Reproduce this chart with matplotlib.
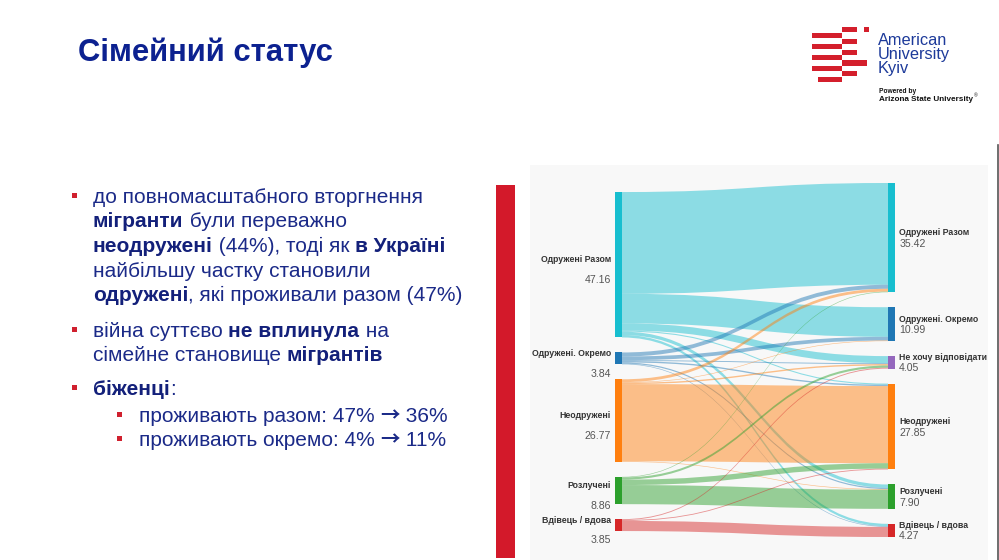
import matplotlib
matplotlib.use('Agg')
import matplotlib.pyplot as plt
from matplotlib.path import Path
from matplotlib.patches import PathPatch, Rectangle

# ---------------- data ----------------
left_labels = ['Одружені Разом', 'Одружені. Окремо', 'Неодружені', 'Розлучені', 'Вдівець / вдова']
left_values = [47.16, 3.84, 26.77, 8.86, 3.85]
right_labels = ['Одружені Разом', 'Одружені. Окремо', 'Не хочу відповідати', 'Неодружені',
                'Розлучені', 'Вдівець / вдова']
right_values = [35.42, 10.99, 4.05, 27.85, 7.90, 4.27]
left_colors = ['#17becf', '#1f77b4', '#ff7f0e', '#2ca02c', '#d62728']
right_colors = ['#17becf', '#1f77b4', '#9467bd', '#ff7f0e', '#2ca02c', '#d62728']
# rows: before (left), columns: after (right)
flows = [
    [33.00, 9.60, 2.30, 0.36, 1.10, 0.80],
    [1.30, 1.20, 0.30, 0.44, 0.40, 0.20],
    [0.92, 0.19, 0.45, 25.01, 0.20, 0.00],
    [0.20, 0.00, 0.70, 1.76, 6.20, 0.00],
    [0.00, 0.00, 0.30, 0.28, 0.00, 3.27],
]

title = 'Сімейний статус'
# segment styles: 'n' normal, 'b' bold, 'a' arrow
bullets = [
    (0, [[('до повномасштабного вторгнення', 'n')],
         [('мігранти', 'b'), (' були переважно', 'n')],
         [('неодружені', 'b'), (' (44%), тоді як ', 'n'), ('в Україні', 'b')],
         [('найбільшу частку становили', 'n')],
         [('одружені', 'b'), (', які проживали разом (47%)', 'n')]]),
    (0, [[('війна суттєво ', 'n'), ('не вплинула', 'b'), (' на', 'n')],
         [('сімейне становище ', 'n'), ('мігрантів', 'b')]]),
    (0, [[('біженці', 'b'), (':', 'n')]]),
    (1, [[('проживають разом: 47% ', 'n'), ('→', 'a'), (' 36%', 'n')]]),
    (1, [[('проживають окремо: 4% ', 'n'), ('→', 'a'), (' 11%', 'n')]]),
]

# ---------------- figure ----------------
W, H = 999, 560
fig = plt.figure(figsize=(W / 100, H / 100), dpi=100)
fig.patch.set_facecolor('white')
ax0 = fig.add_axes([0, 0, 1, 1])
ax0.set_xlim(0, W)
ax0.set_ylim(H, 0)
ax0.axis('off')

FAM = ['Liberation Sans', 'DejaVu Sans']
ARROW_FAM = ['Noto Sans CJK JP', 'DejaVu Sans']
NAVY = '#1b2a88'
RED = '#d41f2c'
renderer = fig.canvas.get_renderer()
probe = ax0.text(0, 0, '', family=FAM)


def adv(s, size, weight='normal', family=FAM):
    probe.set_fontsize(size)
    probe.set_fontweight(weight)
    probe.set_family(family)
    probe.set_text('|' + s + '|')
    w1 = probe.get_window_extent(renderer).width
    probe.set_text('||')
    w2 = probe.get_window_extent(renderer).width
    return w1 - w2


# panel background + red bar + edge line
ax0.add_patch(Rectangle((530, 165), 458, 395, facecolor='#f8f8f8', edgecolor='none', zorder=0))
ax0.add_patch(Rectangle((496, 185), 19, 373, facecolor='#d3192a', edgecolor='none', zorder=1))
ax0.plot([998, 998], [145, 560], color='#555555', lw=1.2, zorder=1)

# title
ax0.text(78, 61, title, fontsize=22.3, fontweight='bold', color='#0c2190', family=FAM,
         va='baseline', ha='left')

# logo
logo_rects = [(20, 38, 112, 157), (20, 38, 177, 192), (38, 55, 22, 112), (55, 72, 112, 157),
              (72, 88, 22, 112), (88, 105, 112, 157), (105, 120, 22, 112), (120, 138, 112, 185),
              (138, 153, 22, 112), (153, 170, 112, 157), (170, 187, 40, 112)]
for y0, y1, x0, x1 in logo_rects:
    ax0.add_patch(Rectangle((805 + x0 / 3, 20 + y0 / 3 + 0.25), (x1 - x0) / 3, (y1 - y0) / 3 - 0.5,
                            facecolor=RED, edgecolor='none'))
for i, w in enumerate(['American', 'University', 'Kyiv']):
    ax0.text(878, 45 + i * 13.8, w, fontsize=11.8, color='#1d3a9a', family=FAM, va='baseline')
ax0.text(879, 93, 'Powered by', fontsize=4.8, fontweight='bold', color='#111111', family=FAM,
         va='baseline')
asu = 'Arizona State University'
ax0.text(879, 101, asu, fontsize=5.9, fontweight='bold', color='#111111', family=FAM,
         va='baseline')
ax0.text(879 + adv(asu, 5.9, 'bold') + 0.5, 97.5, '®', fontsize=3.6, color='#111111',
         family=FAM, va='baseline')

# bullet text
FS = 15.0
baselines = [203, 227, 252, 277, 301, 337, 361, 395, 422, 446]
li = 0
for level, lines in bullets:
    tx = 93 if level == 0 else 139
    bx = 74 if level == 0 else 119
    for j, segs in enumerate(lines):
        yb = baselines[li]
        if j == 0:
            ax0.add_patch(Rectangle((bx - 2.5, yb - 10), 5, 5, facecolor='#d0202e', edgecolor='none'))
        x = tx
        for s, st in segs:
            if st == 'a':
                ax0.text(x, yb - 1, s, fontsize=14, family=ARROW_FAM,
                         fontweight='bold', color=NAVY, va='baseline', ha='left')
                x += adv(s, 14, 'bold', ARROW_FAM)
                continue
            b = st == 'b'
            ax0.text(x, yb, s, fontsize=FS, family=FAM, fontweight='bold' if b else 'normal',
                     color='#13207a' if b else NAVY, va='baseline', ha='left')
            x += adv(s, FS, 'bold' if b else 'normal')
        li += 1
probe.remove()

# ---------------- sankey ----------------
px_l, px_r, px_t, px_b = 615, 895, 183, 537
axs = fig.add_axes([px_l / W, 1 - px_b / H, (px_r - px_l) / W, (px_b - px_t) / H])
axs.patch.set_alpha(0)
axs.axis('off')
node_w = 7 / (px_r - px_l)
total = sum(right_values)
scale = (px_b - px_t - 5 * 15) / total  # px per unit
gap = 15 / scale
right_h = total + gap * (len(right_values) - 1)
left_h = sum(left_values) + gap * (len(left_values) - 1)
axs.set_xlim(0, 1)
axs.set_ylim(right_h, 0)

ly, y = [], (right_h - left_h) / 2 + 0.5
for v in left_values:
    ly.append(y)
    y += v + gap
ry, y = [], 0
for v in right_values:
    ry.append(y)
    y += v + gap

# links: stacked at source by target order, at target by source order
x0, x1 = node_w, 1 - node_w
xm = (x0 + x1) / 2
src_pos, tgt_pos = {}, {}
off = list(ly)
for i in range(len(left_values)):
    for j in range(len(right_values)):
        if flows[i][j] > 0:
            src_pos[(i, j)] = off[i]
            off[i] += flows[i][j]
off = list(ry)
for j in range(len(right_values)):
    for i in range(len(left_values)):
        if flows[i][j] > 0:
            tgt_pos[(i, j)] = off[j]
            off[j] += flows[i][j]
for (i, j), ys in src_pos.items():
    v = flows[i][j]
    yt = tgt_pos[(i, j)]
    verts = [(x0, ys), (xm, ys), (xm, yt), (x1, yt), (x1, yt + v),
             (xm, yt + v), (xm, ys + v), (x0, ys + v), (x0, ys)]
    codes = [Path.MOVETO, Path.CURVE4, Path.CURVE4, Path.CURVE4, Path.LINETO,
             Path.CURVE4, Path.CURVE4, Path.CURVE4, Path.CLOSEPOLY]
    axs.add_patch(PathPatch(Path(verts, codes), facecolor=left_colors[i], alpha=0.48,
                            edgecolor='none', zorder=1))

# nodes + labels
for lab, v, y0, c in zip(left_labels, left_values, ly, left_colors):
    axs.add_patch(Rectangle((0, y0), node_w, v, facecolor=c, edgecolor='none', zorder=2))
    cy = y0 + v / 2
    axs.annotate(lab, (0, cy), xytext=(-3, 3.6), textcoords='offset points', ha='right',
                 va='center', fontsize=6.3, fontweight='bold', color='#333333', family=FAM,
                 annotation_clip=False)
    axs.annotate(f'{v:.2f}', (0, cy), xytext=(-3, -11), textcoords='offset points', ha='right',
                 va='center', fontsize=7.6, color='#555555', family=FAM, annotation_clip=False)
for lab, v, y0, c in zip(right_labels, right_values, ry, right_colors):
    axs.add_patch(Rectangle((1 - node_w, y0), node_w, v, facecolor=c, edgecolor='none', zorder=2))
    cy = y0 + v / 2
    axs.annotate(lab, (1, cy), xytext=(3, 3.6), textcoords='offset points', ha='left',
                 va='center', fontsize=6.3, fontweight='bold', color='#333333', family=FAM,
                 annotation_clip=False)
    axs.annotate(f'{v:.2f}', (1, cy), xytext=(3, -4.3), textcoords='offset points', ha='left',
                 va='center', fontsize=7.6, color='#555555', family=FAM, annotation_clip=False)

fig.savefig('out.png', dpi=100)
